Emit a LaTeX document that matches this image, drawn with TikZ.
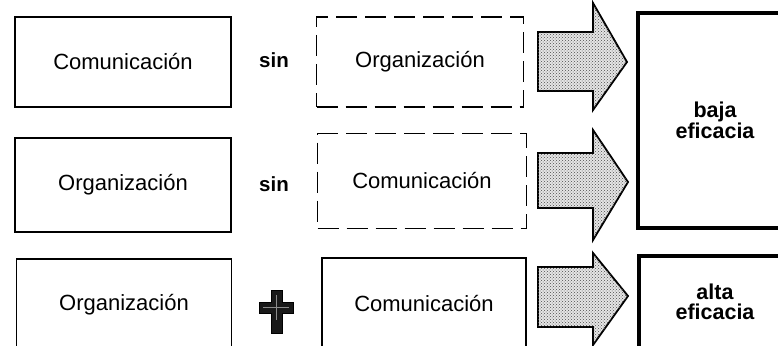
\documentclass[tikz,border=0pt]{standalone}
\usepackage{fontspec}
\setmainfont{Liberation Sans}
\usetikzlibrary{patterns}
\begin{document}
\begin{tikzpicture}[x=1pt,y=-1pt,
  box/.style={draw=black, line width=1.8pt, inner sep=0pt, font=\fontsize{22}{24}\selectfont},
  dbox/.style={box, dash pattern=on 21pt off 8pt},
  res/.style={draw=black, line width=3.2pt, inner sep=0pt, align=center, font=\fontsize{21.5}{20.5}\selectfont\bfseries},
  word/.style={inner sep=0pt, font=\fontsize{20.5}{22}\selectfont\bfseries},
  blockarrow/.style={draw=black, line width=1.8pt, line join=miter, fill=black!10,
    postaction={pattern=crosshatch dots, pattern color=black!70}},
]
\useasboundingbox (0,0) rectangle (778,345);
\clip (0,0) rectangle (778,345);
\fill[white] (0,0) rectangle (778,345);

% row 1
\node[box, minimum width=216, minimum height=90] (c1) at (123,62) {Comunicación};
\node[word] (s1) at (274,60) {sin};
\node[dbox, minimum width=207, minimum height=90] (o1) at (420,62) {Organización};
% row 2
\node[box, minimum width=216, minimum height=94] (o2) at (123,185) {Organización};
\node[word] (s2) at (274,184) {sin};
\node[dbox, minimum width=209, minimum height=95] (c2) at (422,181) {Comunicación};
% row 3
\node[box, minimum width=215, minimum height=92] (o3) at (124,305) {Organización};
\node[box, minimum width=204, minimum height=92] (c3) at (424,304) {Comunicación};

% plus sign
\filldraw[draw=black, fill=black!90, line width=1pt]
  (259,302) -- (271,302) -- (271,290) -- (282,290) -- (282,302) -- (293,302)
  -- (293,313) -- (282,313) -- (282,333) -- (271,333) -- (271,313) -- (259,313) -- cycle;
\draw[black!45, line width=0.8pt] (263,307.5) -- (289,307.5) (276.5,295) -- (276.5,320);

% result boxes
\node[res, minimum width=154, minimum height=215] (baja) at (715,120.5) {baja\\eficacia};
\node[res, minimum width=152, minimum height=92] (alta) at (715,302) {alta\\eficacia};

% block arrows
\path[blockarrow] (538,32) -- (593,32) -- (593,3) -- (627,62) -- (593,110) -- (593,91) -- (538,91) -- cycle;
\path[blockarrow] (538,153) -- (593,153) -- (593,130) -- (628,182) -- (593,240) -- (593,208) -- (538,208) -- cycle;
\path[blockarrow] (538,267) -- (593,267) -- (593,253) -- (628,296) -- (593,345) -- (593,327) -- (538,327) -- cycle;
\end{tikzpicture}
\end{document}
